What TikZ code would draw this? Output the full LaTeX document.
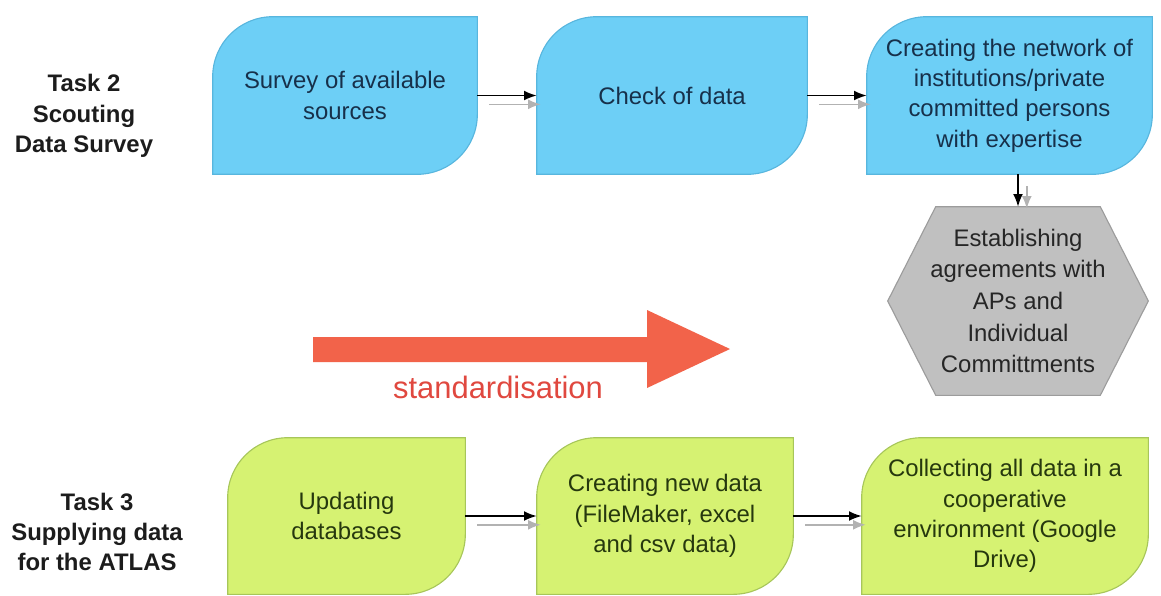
\documentclass[tikz,border=0pt]{standalone}
\usepackage{fontspec}
\setmainfont{Liberation Sans}
\usepackage{xcolor}
\usetikzlibrary{arrows.meta,backgrounds}
\definecolor{skyfill}{HTML}{6DCFF6}
\definecolor{skyline}{HTML}{58B6DE}
\definecolor{skytext}{HTML}{17304A}
\definecolor{limefill}{HTML}{D6F272}
\definecolor{limeline}{HTML}{A7C65A}
\definecolor{limetext}{HTML}{26380E}
\definecolor{hexfill}{HTML}{C0C0C0}
\definecolor{hexline}{HTML}{9C9C9C}
\definecolor{hextext}{HTML}{262626}
\definecolor{tomato}{HTML}{F2634A}
\definecolor{tomatotext}{HTML}{E0483F}
\definecolor{tasktext}{HTML}{1C1C1C}
\tikzset{
  box/.style={rectangle, inner sep=0pt, align=center, font=\fontsize{17}{21.5}\selectfont},
  bluebox/.style={box, text=skytext},
  greenbox/.style={box, text=limetext},
  hexbox/.style={box, text=hextext, font=\fontsize{17}{22.5}\selectfont},
  tasklbl/.style={align=center, text=tasktext, font=\bfseries\fontsize{17}{21.5}\selectfont},
  stdlbl/.style={text=tomatotext, font=\fontsize{22}{26}\selectfont},
  flow/.style={draw=black, line width=1.1pt, -{Latex[length=9pt,width=7pt]}},
  flowshadow/.style={draw=black!30, line width=1.1pt, -{Latex[length=9pt,width=7pt]}},
  leaf/.style={line width=0.8pt}
}
% box with rounded top-left and bottom-right corners
\newcommand{\leafshape}[3]{%
  \draw[leaf, fill=#2, draw=#3] ([yshift=-1.5cm]#1.north west)
    arc[start angle=180, end angle=90, radius=1.5cm] -- (#1.north east)
    -- ([yshift=1.5cm]#1.south east)
    arc[start angle=0, end angle=-90, radius=1.5cm] -- (#1.south west) -- cycle;}

\begin{document}
\begin{tikzpicture}[x=0.025cm, y=-0.025cm]
  \useasboundingbox (0,0) rectangle (1161,595);

  % task labels
  \node[tasklbl] (t2) at (84,116) {Task 2\\Scouting\\Data Survey};
  \node[tasklbl] (t3) at (97,532) {Task 3\\Supplying data\\for the ATLAS};

  % scouting row
  \node[bluebox, minimum width=6.6cm, minimum height=3.925cm] (b1) at (345,95.5) {Survey of available\\sources};
  \node[bluebox, minimum width=6.75cm, minimum height=3.925cm] (b2) at (672,95.5) {Check of data};
  \node[bluebox, minimum width=7.125cm, minimum height=3.925cm] (b3) at (1009.5,95.5)
    {Creating the network of\\institutions/private\\committed persons\\with expertise};
  \node[hexbox, minimum width=6.5cm, minimum height=4.7cm] (hex) at (1018,301)
    {Establishing\\agreements with\\APs and\\Individual\\Committments};

  % supplying row
  \node[greenbox, minimum width=5.925cm, minimum height=3.9cm] (g1) at (346.5,516) {Updating\\databases};
  \node[greenbox, minimum width=6.4cm, minimum height=3.9cm] (g2) at (665,516)
    {Creating new data\\(FileMaker, excel\\and csv data)};
  \node[greenbox, minimum width=7.15cm, minimum height=3.9cm] (g3) at (1005,516)
    {Collecting all data in a\\cooperative\\environment (Google\\Drive)};

  \begin{pgfonlayer}{background}
    \leafshape{b1}{skyfill}{skyline}
    \leafshape{b2}{skyfill}{skyline}
    \leafshape{b3}{skyfill}{skyline}
    \leafshape{g1}{limefill}{limeline}
    \leafshape{g2}{limefill}{limeline}
    \leafshape{g3}{limefill}{limeline}
    \draw[leaf, fill=hexfill, draw=hexline] (hex.west) -- ([xshift=1.2cm]hex.north west)
      -- ([xshift=-1.2cm]hex.north east) -- (hex.east)
      -- ([xshift=-1.2cm]hex.south east) -- ([xshift=1.2cm]hex.south west) -- cycle;
  \end{pgfonlayer}

  % standardisation arrow
  \fill[tomato] (313,337) -- (647,337) -- (647,310) -- (730,349)
    -- (647,388) -- (647,362) -- (313,362) -- cycle;
  \node[stdlbl] (std) at (498,387) {standardisation};

  % connectors
  \foreach \a/\b in {b1/b2, b2/b3, g1/g2, g2/g3} {
    \draw[flowshadow] ([xshift=0.3cm,yshift=-0.22cm]\a.east) -- ([xshift=0.1cm,yshift=-0.22cm]\b.west);
    \draw[flow] (\a.east) -- (\b.west);
  }
  \coordinate (b3s) at (b3.south -| hex.north);
  \draw[flowshadow] ([xshift=0.22cm,yshift=-0.3cm]b3s) -- ([xshift=0.22cm,yshift=-0.05cm]hex.north);
  \draw[flow] (b3s) -- (hex.north);
\end{tikzpicture}
\end{document}
